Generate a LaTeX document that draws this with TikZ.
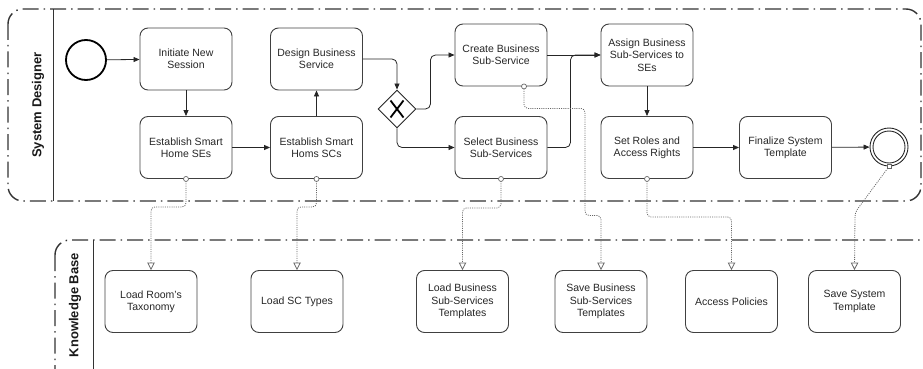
\documentclass[tikz,border=0pt]{standalone}
\usepackage{fontspec}
\setmainfont{Liberation Sans}
\usetikzlibrary{arrows.meta,shapes.geometric}
\begin{document}
\begin{tikzpicture}[x=1pt,y=-1pt,
  task/.style={draw=black!75, line width=0.9pt, rounded corners=8pt, minimum width=92pt, minimum height=62pt, align=center, font=\fontsize{10.5}{12.3}\selectfont, text=black!85, inner sep=2pt},
  flow/.style={draw=black!85, line width=0.8pt, -{Triangle[length=6pt,width=5pt]}, rounded corners=5pt},
  assoc/.style={draw=black!60, line width=0.8pt, dash pattern=on 1pt off 1.2pt, -{Triangle[open,length=7.5pt,width=7.5pt]}, rounded corners=4pt},
  assocdot/.style={circle, draw=black!60, fill=white, line width=0.7pt, inner sep=0pt, minimum size=5pt, solid},
  pool/.style={draw=black!80, line width=1.4pt, dash pattern=on 16pt off 5pt on 1.5pt off 5pt, rounded corners=15pt},
  lane/.style={draw=black!80, line width=0.9pt},
  lanelabel/.style={rotate=90, font=\bfseries\fontsize{13}{15}\selectfont, text=black!90},
]
\useasboundingbox (0,0) rectangle (923,369);
\begin{scope}
\clip (0,0) rectangle (923,369);
% pools
\draw[pool] (8,9) rectangle (921,201);
\draw[lane] (53,9) -- (53,201);
\draw[pool] (55,240) rectangle (960,400);
\draw[lane] (93,240) -- (93,400);
\end{scope}
\node[lanelabel] (sdl) at (38,105) {System Designer};
\node[lanelabel] (kbl) at (75,305) {Knowledge Base};

% events and gateway
\node[circle, draw=black, line width=1.8pt, minimum size=40pt, inner sep=0pt] (start) at (86,60) {};
\node[circle, draw=black!85, line width=0.9pt, minimum size=38pt, inner sep=0pt] (end) at (889,147) {};
\node[circle, draw=black!85, line width=0.9pt, minimum size=32pt, inner sep=0pt] (endin) at (889,147) {};
\node[diamond, draw=black!85, line width=0.9pt, minimum width=38pt, minimum height=38pt, inner sep=0pt, fill=white] (gw) at (397,109) {};
\draw[line width=1.8pt] ([shift={(-6.5,-8.5)}]gw.center) -- ([shift={(6.5,8.5)}]gw.center)
  ([shift={(-6.5,8.5)}]gw.center) -- ([shift={(6.5,-8.5)}]gw.center);

% tasks
\node[task] (ins) at (186,59) {Initiate New\\Session};
\node[task] (esse) at (186,147.5) {Establish Smart\\Home SEs};
\node[task] (dbs) at (316.5,59) {Design Business\\Service};
\node[task] (esc) at (316.5,147.5) {Establish Smart\\Homs SCs};
\node[task] (cbs) at (501,55) {Create Business\\Sub-Service};
\node[task] (sbs) at (501,147.5) {Select Business\\Sub-Services};
\node[task] (abs) at (647,55) {Assign Business\\Sub-Services to\\SEs};
\node[task] (srar) at (647,147.5) {Set Roles and\\Access Rights};
\node[task] (fst) at (785.5,147.5) {Finalize System\\Template};

\node[task] (lrt) at (151,301.5) {Load Room's\\Taxonomy};
\node[task] (lsc) at (297,301.5) {Load SC Types};
\node[task] (lbst) at (462.5,301.5) {Load Business\\Sub-Services\\Templates};
\node[task] (sbst) at (601,301.5) {Save Business\\Sub-Services\\Templates};
\node[task] (ap) at (731.5,301.5) {Access Policies};
\node[task] (sst) at (854.5,301.5) {Save System\\Template};

% sequence flows
\draw[flow] (start) -- (ins);
\draw[flow] (ins) -- (esse);
\draw[flow] (esse) -- (esc);
\draw[flow] (esc) -- (dbs);
\draw[flow] (dbs.east) -| (gw.north);
\draw[flow] (gw.east) -- ++(14,0) |- (cbs.west);
\draw[flow] (gw.south) |- (sbs.west);
\draw[flow] (cbs.east) -- (abs.west);
\draw[flow] (sbs.east) -- ++(23,0) |- (abs.west);
\draw[flow] (abs) -- (srar);
\draw[flow] (srar) -- (fst);
\draw[flow] (fst) -- (end);

% associations
\draw[assoc] (esse.south) -- ++(0,28) -| (lrt.north);
\path (esse.south) node[assocdot] {};
\draw[assoc] (esc.south) -- ++(0,28) -| (lsc.north);
\path (esc.south) node[assocdot] {};
\draw[assoc] (sbs.south) -- ++(0,29) -| (lbst.north);
\path (sbs.south) node[assocdot] {};
\draw[assoc] ([xshift=23pt]cbs.south) -- ++(0,22) -- ++(61,0) -- ++(0,107) -| (sbst.north);
\path ([xshift=23pt]cbs.south) node[assocdot] {};
\draw[assoc] (srar.south) -- ++(0,38) -| (ap.north);
\path (srar.south) node[assocdot] {};
\draw[assoc] (end.south) -- ++(-34,46) -- (sst.north);
\path (end.south) node[assocdot, rectangle, minimum size=4pt] {};
\end{tikzpicture}
\end{document}
